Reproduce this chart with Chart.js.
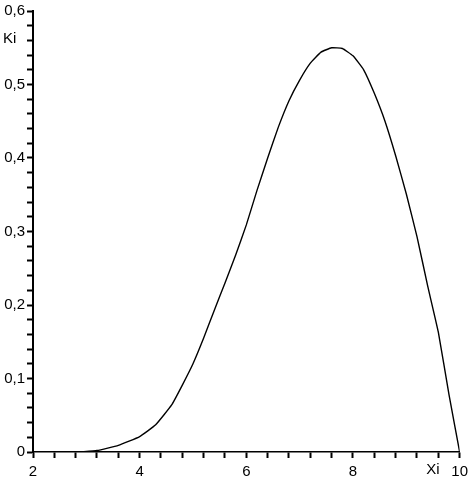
<!DOCTYPE html>
<html>
<head>
<meta charset="utf-8">
<script src="https://cdn.jsdelivr.net/npm/chart.js@4.4.1/dist/chart.umd.min.js"></script>
<style>
html,body{margin:0;padding:0;background:#fff;}
#wrap{width:473px;height:481px;}
</style>
</head>
<body>
<div id="wrap"><canvas id="c" width="473" height="481"></canvas></div>
<script>
const xValues = [2.9, 3.2, 3.6, 4.0, 4.3, 4.6, 4.8, 5.0, 5.2, 5.4, 5.6, 5.8, 6.0, 6.2, 6.4, 6.6, 6.8, 7.0, 7.2, 7.4, 7.6, 7.8, 8.0, 8.2, 8.4, 8.6, 8.8, 9.0, 9.2, 9.4, 9.6, 9.8, 10.0];
const kiValues = [0, 0.002, 0.009, 0.021, 0.037, 0.064, 0.091, 0.120, 0.155, 0.193, 0.230, 0.268, 0.309, 0.356, 0.400, 0.442, 0.478, 0.506, 0.529, 0.544, 0.550, 0.549, 0.539, 0.520, 0.488, 0.450, 0.403, 0.351, 0.293, 0.226, 0.163, 0.078, 0];
const xTickLabels = [2, 4, 6, 8, 10];
const yTickLabels = [0, 0.1, 0.2, 0.3, 0.4, 0.5, 0.6];
const xAxisName = 'Xi';
const yAxisName = 'Ki';

const FONT = {family: '"Liberation Sans", Arial, sans-serif', size: 15};

const points = xValues.map((x, i) => ({x: x, y: kiValues[i]}));

function near(a, b) { return Math.abs(a - b) < 1e-6; }

const axisNames = {
  id: 'axisNames',
  afterDraw(chart) {
    const ctx = chart.ctx;
    const xs = chart.scales.x, ys = chart.scales.y;
    ctx.save();
    ctx.fillStyle = '#000';
    ctx.font = '15px "Liberation Sans", Arial, sans-serif';
    ctx.textBaseline = 'middle';
    ctx.textAlign = 'left';
    ctx.fillText(yAxisName, 3, ys.getPixelForValue(0.562));
    ctx.textAlign = 'center';
    ctx.fillText(xAxisName, xs.getPixelForValue(9.5), xs.bottom - 11);
    ctx.restore();
  }
};

new Chart(document.getElementById('c'), {
  type: 'scatter',
  data: {
    datasets: [{
      data: points,
      showLine: true,
      borderColor: '#000',
      borderWidth: 1.4,
      pointRadius: 0,
      tension: 0.12,
      fill: false
    }]
  },
  options: {
    responsive: false,
    animation: false,
    devicePixelRatio: 1,
    layout: {padding: {top: 8, right: 13, left: 0, bottom: 0}},
    plugins: {legend: {display: false}, tooltip: {enabled: false}},
    scales: {
      x: {
        type: 'linear',
        min: 2, max: 10,
        afterFit(s) { s.height = 29; },
        border: {display: true, color: '#000', width: 1.5},
        grid: {display: true, drawOnChartArea: false, drawTicks: true, tickLength: 6, tickColor: '#000', tickWidth: 2},
        ticks: {
          stepSize: 0.4, autoSkip: false, maxRotation: 0, color: '#000', font: FONT, padding: 5,
          callback(v) {
            const hit = xTickLabels.find(t => near(t, v));
            return hit === undefined ? '' : String(hit);
          }
        }
      },
      y: {
        type: 'linear',
        min: 0, max: 0.6,
        afterFit(s) { s.width = 33; },
        border: {display: true, color: '#000', width: 2},
        grid: {display: true, drawOnChartArea: false, drawTicks: true, tickLength: 6, tickColor: '#000', tickWidth: 2},
        ticks: {
          stepSize: 0.02, autoSkip: false, color: '#000', font: FONT, padding: 2,
          callback(v) {
            const hit = yTickLabels.find(t => near(t, v));
            return hit === undefined ? '' : (hit === 0 ? '0' : String(hit).replace('.', ','));
          }
        }
      }
    }
  },
  plugins: [axisNames]
});
</script>
</body>
</html>
